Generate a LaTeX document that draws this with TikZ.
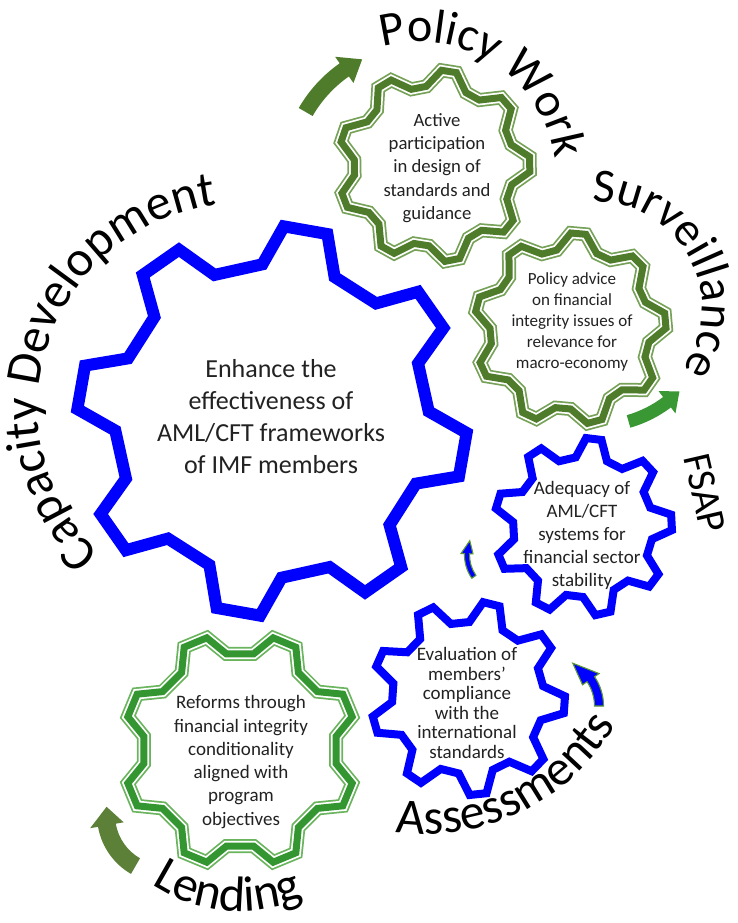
\documentclass[tikz,border=0pt]{standalone}
\usepackage{fontspec}
\setmainfont{Carlito}
\usetikzlibrary{decorations.text}
\definecolor{gblue}{RGB}{0,0,255}
\definecolor{pwgreen}{RGB}{78,124,42}
\definecolor{pwlight}{RGB}{118,162,88}
\definecolor{lgreen}{RGB}{52,150,48}
\definecolor{llight}{RGB}{105,180,92}
\definecolor{svgreen}{RGB}{58,152,52}
\definecolor{lagreen}{RGB}{92,128,56}
\definecolor{edgegreen}{RGB}{90,150,50}
\definecolor{txtgray}{RGB}{34,34,34}

% #1 style, #2 centre, #3 teeth, #4 outer R, #5 inner r, #6 phase, #7 half outer, #8 half inner
\newcommand{\mygear}[8]{%
  \pgfmathsetmacro\gP{360/#3}%
  \pgfmathtruncatemacro\gL{#3-2}%
  \draw[#1,shift={#2}] ({#6-#7}:#4)
    \foreach \k in {0,...,\gL}{
      -- ({#6+\k*\gP+#7}:#4) -- ({#6+\k*\gP+\gP/2-#8}:#5)
      -- ({#6+\k*\gP+\gP/2+#8}:#5) -- ({#6+(\k+1)*\gP-#7}:#4)}
    -- ({#6+(#3-1)*\gP+#7}:#4) -- ({#6+(#3-1)*\gP+\gP/2-#8}:#5)
    -- ({#6+(#3-1)*\gP+\gP/2+#8}:#5) -- cycle;}

% green triple band gear: #1 centre, #2 teeth, #3 R, #4 r, #5 phase, #6 ho, #7 hi, #8 dark, #9 light
\newcommand{\greengear}[9]{%
  \mygear{draw=#9, line width=14, line join=miter}{#1}{#2}{#3}{#4}{#5}{#6}{#7}%
  \mygear{draw=white, line width=10.5, line join=miter}{#1}{#2}{#3}{#4}{#5}{#6}{#7}%
  \mygear{draw=#8, line width=7, line join=miter}{#1}{#2}{#3}{#4}{#5}{#6}{#7}}

% #1 style, #2 centre, #3 R, #4 start angle, #5 head base angle, #6 tip angle, #7 half width, #8 head half width
\newcommand{\arcarrow}[8]{%
  \pgfmathsetmacro\aRo{#3+#7}\pgfmathsetmacro\aRi{#3-#7}%
  \pgfmathsetmacro\aHo{#3+#8}\pgfmathsetmacro\aHi{#3-#8}%
  \path[#1,shift={#2}] (#4:\aRo) arc[start angle=#4, end angle=#5, radius=\aRo]
    -- (#5:\aHo) -- (#6:#3) -- (#5:\aHi) -- (#5:\aRi)
    arc[start angle=#5, end angle=#4, radius=\aRi] -- cycle;}

\tikzset{
  bluegear/.style={draw=gblue, line width=#1, line join=miter},
  gtext/.style={align=center, text=txtgray, inner sep=0pt},
  smallblue/.style={fill=gblue, draw=edgegreen, line width=1.1, line join=miter},
}

\begin{document}
\begin{tikzpicture}[x=1pt,y=1pt]
\useasboundingbox (0,0) rectangle (737,-923);
\fill[white] (0,0) rectangle (737,-923);

% gear centres
\coordinate (ccore) at (272,-421);
\coordinate (cpw) at (434,-166);
\coordinate (cpa) at (570,-329);
\coordinate (caq) at (583,-527);
\coordinate (cev) at (468,-698);
\coordinate (cld) at (240,-750);

% gears
\mygear{bluegear=12}{(ccore)}{8}{195}{157}{35}{6.5}{9}
\mygear{bluegear=8}{(caq)}{9}{89}{70}{83}{5}{7}
\mygear{bluegear=8}{(cev)}{9}{97}{76}{76}{5}{7}
\greengear{(cpw)}{9}{96}{80}{81}{4.5}{5.5}{pwgreen}{pwlight}
\greengear{(cpa)}{9}{96}{80}{85}{4.5}{5.5}{pwgreen}{pwlight}
\greengear{(cld)}{8}{117}{97}{22.5}{6}{8}{lgreen}{llight}

% gear texts
\node[gtext, font=\fontsize{26}{32}\selectfont] (core) at (271,-417)
  {Enhance the\\effectiveness of\\AML/CFT frameworks\\of IMF members};
\node[gtext, font=\fontsize{18.7}{23.3}\selectfont] (pw) at (437,-168)
  {Active\\participation\\in design of\\standards and\\guidance};
\node[gtext, font=\fontsize{17}{20.8}\selectfont] (pa) at (572,-322)
  {Policy advice\\on financial\\integrity issues of\\relevance for\\macro-economy};
\node[gtext, font=\fontsize{19}{23}\selectfont] (aq) at (582,-535)
  {Adequacy of\\AML/CFT\\systems for\\financial sector\\stability};
\node[gtext, font=\fontsize{19}{19.5}\selectfont] (ev) at (467,-703)
  {Evaluation of\\members’\\compliance\\with the\\international\\standards};
\node[gtext, font=\fontsize{19}{23.3}\selectfont] (ld) at (241,-762)
  {Reforms through\\financial integrity\\conditionality\\aligned with\\program\\objectives};

% curved labels
\path[shift={(243,-408)}, decorate, decoration={text along path, text align=center,
  text={|\fontsize{50}{50}\selectfont|Capacity Development}}]
  (251.4:205) arc[start angle=251.4, end angle=71.4, radius=205];
\path[shift={(420,-178)}, decorate, decoration={text along path, text align=center,
  text={|\fontsize{48}{48}\selectfont|Policy Work}}]
  (157:136) arc[start angle=157, end angle=-43, radius=136];
\path[shift={(596,-308)}, decorate, decoration={text along path, text align=center,
  text={|\fontsize{48}{48}\selectfont|Surveillance}}]
  (128.5:106) arc[start angle=128.5, end angle=-71.5, radius=106];
\path[shift={(426,-615)}, decorate, decoration={text along path, text align=center,
  text={|\fontsize{50}{50}\selectfont|Assessments}}]
  (196:219) arc[start angle=196, end angle=396, radius=219];
\path[shift={(240,-750)}, decorate, decoration={text along path, text align=center,
  text={|\fontsize{50}{50}\selectfont|Lending}}]
  (165:161) arc[start angle=165, end angle=365, radius=161];
\node[rotate=-77, font=\fontsize{40}{40}\selectfont, inner sep=0pt] (fsap) at (705,-493) {FSAP};

% arrows
\arcarrow{fill=pwgreen}{(420,-178)}{132}{150}{125}{116}{8}{16}
\arcarrow{fill=svgreen}{(596,-308)}{118}{-74}{-53}{-45}{6.5}{14}
\arcarrow{fill=lagreen}{(165,-815)}{59}{240}{190}{172}{9}{17}
\arcarrow{smallblue}{(505,-555)}{38}{215}{178}{158}{2.5}{6}
\arcarrow{smallblue}{(551,-706)}{48}{0}{34}{63}{4.5}{10}
\end{tikzpicture}
\end{document}
